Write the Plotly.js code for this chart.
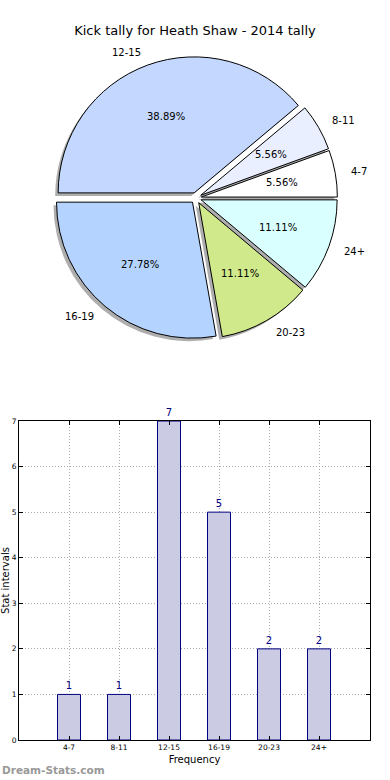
<!DOCTYPE html>
<html>
<head>
<meta charset="utf-8">
<script src="https://cdn.plot.ly/plotly-3.0.1.min.js"></script>
<style>html,body{margin:0;padding:0;background:#fff;}#chart{width:390px;height:780px;}</style>
</head>
<body>
<div id="chart"></div>
<script>
// ---- data ----
const categories = ['4-7', '8-11', '12-15', '16-19', '20-23', '24+'];
const counts = [1, 1, 7, 5, 2, 2];
const sliceColors = ['#ffffff', '#e9efff', '#c4d8ff', '#b4d4ff', '#d0e98a', '#d9ffff'];
const pulls = [0.04, 0.04, 0.04, 0.04, 0.04, 0.04];
const yTicks = [0, 1, 2, 3, 4, 5, 6, 7];
const chartTitle = 'Kick tally for Heath Shaw - 2014 tally';

// ---- layout constants ----
const W = 390, H = 780;
const FONT = 'DejaVu Sans, Verdana, sans-serif';
const cx = 196, cy = 198, R = 136;   // pie centre and radius (px)
const maxPull = Math.max.apply(null, pulls);
const half = R * (1 + maxPull);
const pieDomain = {
  x: [(cx - half) / W, (cx + half) / W],
  y: [1 - (cy + half) / H, 1 - (cy - half) / H]
};
const sh = 3; // shadow offset px
const shadowDomain = {
  x: [(cx - half - sh) / W, (cx + half - sh) / W],
  y: [1 - (cy + half + sh) / H, 1 - (cy - half + sh) / H]
};

const total = counts.reduce((a, b) => a + b, 0);
// plotly's counterclockwise start compensation so the first slice begins at 3 o'clock
const rot = 90 - (counts[0] / total) * 360;

const shadow = {
  type: 'pie', values: counts, labels: categories, sort: false,
  direction: 'counterclockwise', rotation: rot, pull: pulls,
  marker: {colors: counts.map(() => 'rgba(120,120,120,0.6)'), line: {width: 0}},
  textinfo: 'none', hoverinfo: 'skip', showlegend: false,
  domain: shadowDomain
};
const pie = {
  type: 'pie', values: counts, labels: categories, sort: false,
  direction: 'counterclockwise', rotation: rot, pull: pulls,
  marker: {colors: sliceColors, line: {color: '#000000', width: 1}},
  textinfo: 'none', showlegend: false,
  domain: pieDomain
};

const bar = {
  type: 'bar', x: categories, y: counts, text: counts.map(String),
  textposition: 'outside', cliponaxis: false,
  textfont: {family: FONT, size: 10, color: '#000080'},
  width: 0.46,
  marker: {color: '#cbcbe3', line: {color: '#000080', width: 1}},
  xaxis: 'x', yaxis: 'y', showlegend: false
};

// annotations for pie labels and percentages computed from data
const annotations = [];
let start = 0;
counts.forEach((v, i) => {
  const frac = v / total;
  const mid = (start + frac / 2) * 2 * Math.PI;
  start += frac;
  const p = pulls[i];
  const c = Math.cos(mid), s = Math.sin(mid);
  const pd = (0.6 + p) * R;
  annotations.push({
    xref: 'paper', yref: 'paper',
    x: (cx + pd * c) / W, y: 1 - (cy - pd * s) / H,
    text: (frac * 100).toFixed(2) + '%', showarrow: false,
    xanchor: 'center', yanchor: 'middle',
    font: {family: FONT, size: 10, color: '#000'}
  });
  const ld = (1.1 + p) * R;
  annotations.push({
    xref: 'paper', yref: 'paper',
    x: (cx + ld * c) / W, y: 1 - (cy - ld * s) / H,
    text: categories[i], showarrow: false,
    xanchor: c >= 0 ? 'left' : 'right', yanchor: 'middle',
    font: {family: FONT, size: 10, color: '#000'}
  });
});
annotations.push({
  xref: 'paper', yref: 'paper', x: 0, y: 1 - 770 / H,
  text: '<b>Dream-Stats.com</b>', showarrow: false,
  xanchor: 'left', yanchor: 'middle',
  font: {family: FONT, size: 10.5, color: '#999999'}
});

const layout = {
  width: W, height: H,
  margin: {l: 0, r: 0, t: 0, b: 0},
  paper_bgcolor: '#ffffff', plot_bgcolor: '#ffffff',
  font: {family: FONT, color: '#000'},
  title: {text: chartTitle, x: 0.5, xanchor: 'center', y: 1 - 30 / H, yanchor: 'middle',
          font: {family: FONT, size: 13, color: '#000'}},
  xaxis: {
    domain: [19 / W, 370 / W], anchor: 'y', type: 'category',
    range: [-1, 6.02], showline: true, mirror: 'ticks', linecolor: '#000', linewidth: 1,
    ticks: 'inside', ticklen: 4, tickcolor: '#000',
    tickfont: {family: FONT, size: 7.5, color: '#000'},
    showgrid: true, gridcolor: '#aaaaaa', griddash: '1px,2px', gridwidth: 1,
    zeroline: false, fixedrange: true,
    title: {text: 'Frequency', font: {family: FONT, size: 10, color: '#000'}, standoff: 4}
  },
  yaxis: {
    domain: [1 - 740 / H, 1 - 421 / H], anchor: 'x',
    range: [0, 7], tickvals: yTicks, showline: true, mirror: 'ticks', linecolor: '#000', linewidth: 1,
    ticks: 'inside', ticklen: 4, tickcolor: '#000',
    tickfont: {family: FONT, size: 7.5, color: '#000'},
    showgrid: true, gridcolor: '#aaaaaa', griddash: '1px,2px', gridwidth: 1,
    zeroline: false, fixedrange: true,
    title: {text: 'Stat intervals', font: {family: FONT, size: 10, color: '#000'}, standoff: 0}
  },
  annotations: annotations
};

Plotly.newPlot('chart', [shadow, pie, bar], layout, {displayModeBar: false, staticPlot: true});
</script>
</body>
</html>
